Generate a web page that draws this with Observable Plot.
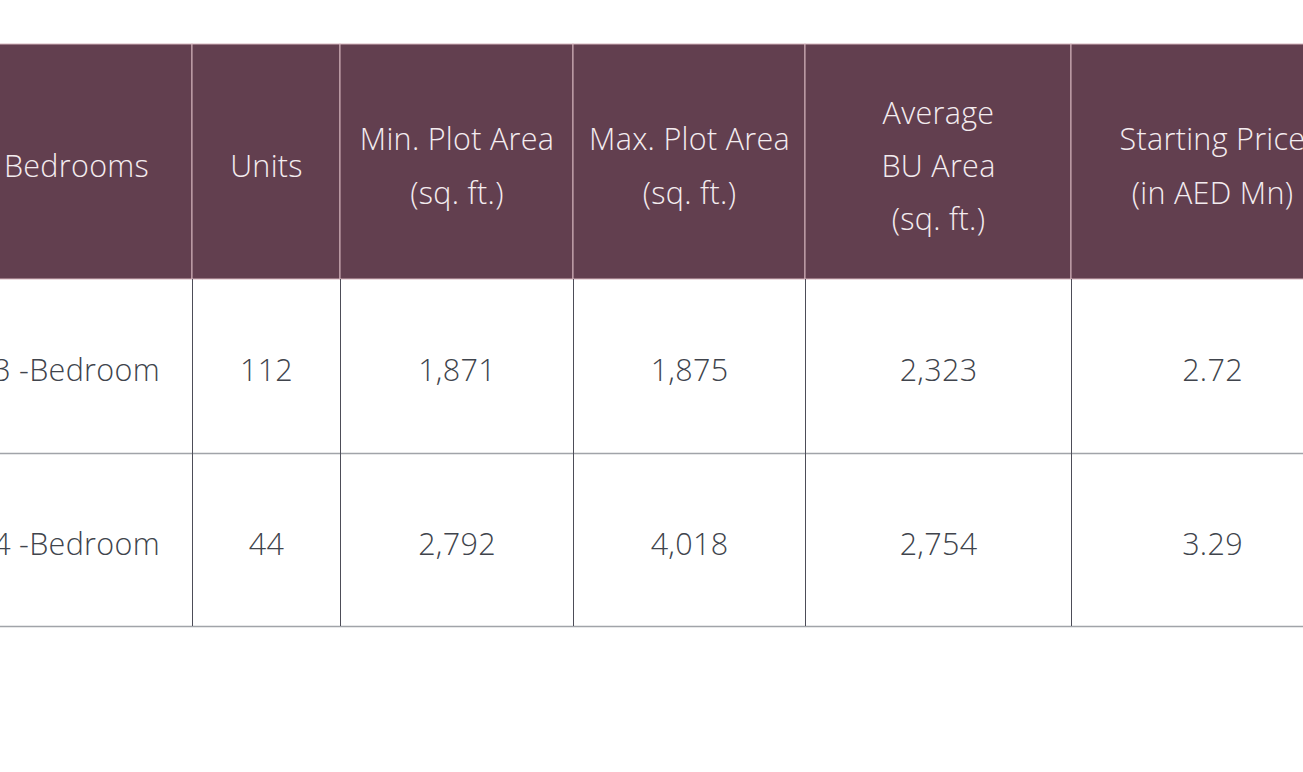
<!DOCTYPE html>
<html>
<head>
<meta charset="utf-8">
<script src="https://cdn.jsdelivr.net/npm/d3@7"></script>
<script src="https://cdn.jsdelivr.net/npm/@observablehq/plot@0.6"></script>
<style>
  html, body { margin: 0; padding: 0; background: #ffffff; overflow: hidden; }
  #chart svg { display: block; }
  #chart svg text { letter-spacing: 0.3px; }
</style>
</head>
<body>
<div id="chart"></div>
<script>
// ---- data ----
const headers = ["Bedrooms", "Units", "Min. Plot Area\n(sq. ft.)", "Max. Plot Area\n(sq. ft.)", "Average\nBU Area\n(sq. ft.)", "Starting Price\n(in AED Mn)"];
const bedrooms = ["3 -Bedroom", "4 -Bedroom"];
const units = [112, 44];
const minPlotArea = [1871, 2792];
const maxPlotArea = [1875, 4018];
const avgBUArea = [2323, 2754];
const startingPrice = [2.72, 3.29];

// ---- layout ----
const colWidths = [232, 148, 233, 232, 266, 282];
const rowHeights = [235, 174, 173];
const tableLeft = -40, tableTop = 44;

const colEdges = [0];
colWidths.forEach(w => colEdges.push(colEdges[colEdges.length - 1] + w));
const rowEdges = [0];
rowHeights.forEach(h => rowEdges.push(rowEdges[rowEdges.length - 1] + h));
const totalW = colEdges[colEdges.length - 1];
const totalH = rowEdges[rowEdges.length - 1];

const fmtInt = d3.format(",");
const fmtPrice = d3.format(".2f");

const headerCells = headers.map((h, i) => ({
  x1: colEdges[i], x2: colEdges[i + 1], y1: rowEdges[0], y2: rowEdges[1],
  xc: (colEdges[i] + colEdges[i + 1]) / 2, yc: (rowEdges[0] + rowEdges[1]) / 2, label: h
}));

const bodyCells = [];
bedrooms.forEach((b, r) => {
  const vals = [b, fmtInt(units[r]), fmtInt(minPlotArea[r]), fmtInt(maxPlotArea[r]), fmtInt(avgBUArea[r]), fmtPrice(startingPrice[r])];
  vals.forEach((v, i) => bodyCells.push({
    xc: (colEdges[i] + colEdges[i + 1]) / 2,
    yc: (rowEdges[r + 1] + rowEdges[r + 2]) / 2,
    label: v
  }));
});

const chart = Plot.plot({
  width: 1303,
  height: 772,
  margin: 0,
  style: { background: "#ffffff", fontFamily: "'Open Sans', 'Noto Sans', sans-serif" },
  x: { type: "linear", domain: [0, totalW], range: [tableLeft, tableLeft + totalW], axis: null },
  y: { type: "linear", domain: [0, totalH], range: [tableTop, tableTop + totalH], axis: null },
  marks: [
    Plot.rect(headerCells, { x1: "x1", x2: "x2", y1: "y1", y2: "y2", fill: "#623f4f", stroke: "#d6b6be", strokeWidth: 1 }),
    Plot.ruleY(rowEdges.slice(2), { x1: 0, x2: totalW, stroke: "#a1a4a9", strokeWidth: 1.6 }),
    Plot.ruleX(colEdges.slice(1, -1), { y1: rowEdges[1], y2: totalH, stroke: "#4d4d58", strokeWidth: 1 }),
    Plot.text(headerCells, { x: "xc", y: "yc", text: "label", fill: "#f4ecef", fontSize: 30.5, fontWeight: 300, lineHeight: 1.74, dy: -2 }),
    Plot.text(bodyCells, { x: "xc", y: "yc", text: "label", fill: "#40444c", fontSize: 30.5, fontWeight: 300, dy: 5 })
  ]
});
document.getElementById("chart").appendChild(chart);
</script>
</body>
</html>
